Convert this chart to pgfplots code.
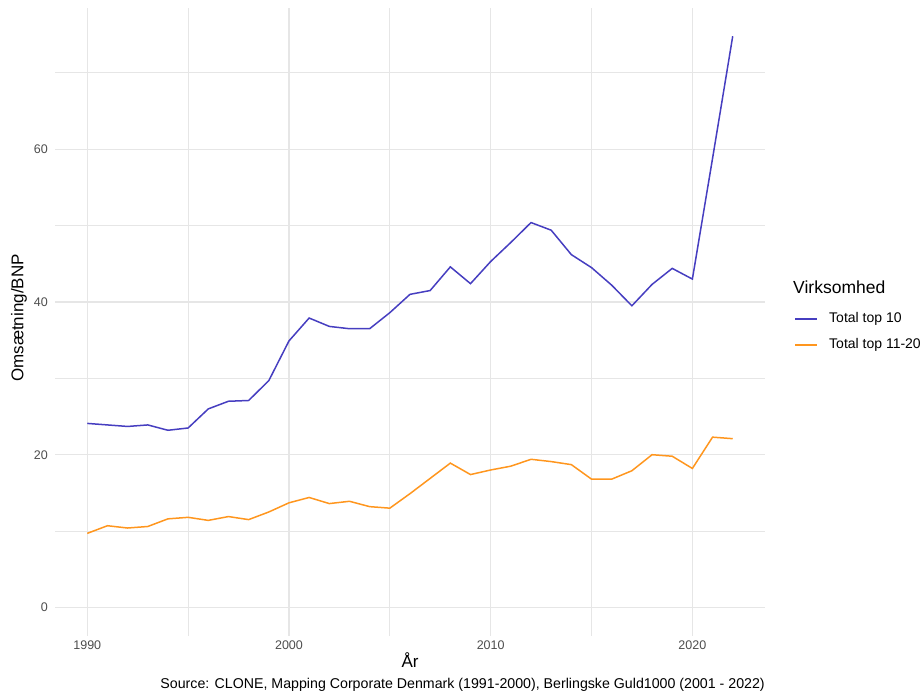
\documentclass[border=0pt]{standalone}
\usepackage{pgfplots}
\pgfplotsset{compat=1.18}
\usepackage{fontspec}
\setmainfont{Liberation Sans}
\definecolor{topten}{RGB}{70,62,192}
\definecolor{toptwenty}{RGB}{255,150,30}
\definecolor{gridc}{RGB}{230,230,230}
\definecolor{tickc}{RGB}{77,77,77}
\begin{document}
\begin{tikzpicture}
\useasboundingbox (-55pt,-57pt) rectangle (867pt,636pt);
\begin{axis}[
  at={(0pt,0pt)}, anchor=south west,
  scale only axis, width=710pt, height=628pt,
  xmin=1988.4, xmax=2023.6, ymin=-3.74, ymax=78.5,
  axis line style={draw=none},
  major tick length=0pt, minor tick length=0pt,
  xtick={1990,2000,2010,2020}, ytick={0,20,40,60},
  minor xtick={1995,2005,2015}, minor ytick={10,30,50,70},
  xmajorgrids, ymajorgrids, xminorgrids, yminorgrids,
  major grid style={gridc, line width=1.5pt},
  minor grid style={gridc, line width=0.8pt},
  /pgf/number format/assume math mode=true,
  /pgf/number format/1000 sep={},
  tick label style={font=\fontsize{12.5}{14}\selectfont, text=tickc, inner sep=0pt},
  xticklabel style={yshift=-4.5pt},
  yticklabel style={xshift=-7pt},
  xlabel={År}, ylabel={Omsætning/BNP},
  label style={font=\fontsize{17}{19}\selectfont},
  xlabel style={at={(axis description cs:0.5,-0.038)}, anchor=center},
  ylabel style={at={(axis description cs:-0.0507,0.5064)}, anchor=center},
  clip=false,
]
\addplot[topten, line width=1.5pt] coordinates {
(1990,24.1) (1991,23.9) (1992,23.7) (1993,23.9) (1994,23.2) (1995,23.5)
(1996,26.0) (1997,27.0) (1998,27.1) (1999,29.7) (2000,34.9) (2001,37.9)
(2002,36.8) (2003,36.5) (2004,36.5) (2005,38.6) (2006,41.0) (2007,41.5)
(2008,44.6) (2009,42.4) (2010,45.3) (2011,47.8) (2012,50.4) (2013,49.4)
(2014,46.2) (2015,44.5) (2016,42.2) (2017,39.5) (2018,42.3) (2019,44.4)
(2020,43.0) (2021,58.8) (2022,74.8)
};
\addplot[toptwenty, line width=1.5pt] coordinates {
(1990,9.7) (1991,10.7) (1992,10.4) (1993,10.6) (1994,11.6) (1995,11.8)
(1996,11.4) (1997,11.9) (1998,11.5) (1999,12.5) (2000,13.7) (2001,14.4)
(2002,13.6) (2003,13.9) (2004,13.2) (2005,13.0) (2006,14.9) (2007,16.9)
(2008,18.9) (2009,17.4) (2010,18.0) (2011,18.5) (2012,19.4) (2013,19.1)
(2014,18.7) (2015,16.8) (2016,16.8) (2017,17.9) (2018,20.0) (2019,19.8)
(2020,18.2) (2021,22.3) (2022,22.1)
};
\end{axis}
% legend
\node[anchor=west, font=\fontsize{17.5}{19}\selectfont, inner sep=0pt] at (738pt,349pt) {Virksomhed};
\draw[topten, line width=1.5pt] (740pt,317pt) -- (762pt,317pt);
\node[anchor=west, font=\fontsize{14}{16}\selectfont, inner sep=0pt] at (774pt,317pt) {Total top 10};
\draw[toptwenty, line width=1.5pt] (740pt,291pt) -- (762pt,291pt);
\node[anchor=west, font=\fontsize{14}{16}\selectfont, inner sep=0pt] at (774pt,291pt) {Total top 11-20};
% caption
\node[anchor=east, font=\fontsize{14.2}{16}\selectfont, inner sep=0pt] at (710pt,-49pt) {Source: CLONE, Mapping Corporate Denmark (1991-2000), Berlingske Guld1000 (2001 - 2022)};
\end{tikzpicture}
\end{document}
